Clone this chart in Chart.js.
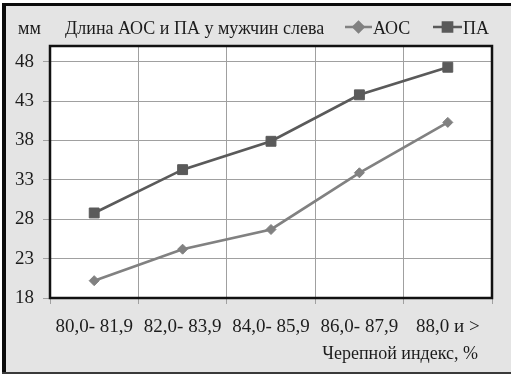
<!DOCTYPE html>
<html>
<head>
<meta charset="utf-8">
<script src="https://cdn.jsdelivr.net/npm/chart.js@4/dist/chart.umd.min.js"></script>
<style>
  html, body { margin: 0; padding: 0; background: #ffffff; }
  #wrap { width: 511px; height: 374px; position: relative; }
  canvas { display: block; }
</style>
</head>
<body>
<div id="wrap"><canvas id="chart" width="511" height="374"></canvas></div>
<script>
// Cranial index groups (x axis)
const categories = ['80,0- 81,9', '82,0- 83,9', '84,0- 85,9', '86,0- 87,9', '88,0 и >'];
// Length, mm
const aocValues = [20.2, 24.2, 26.7, 33.9, 40.3];
const paValues = [28.8, 34.3, 37.9, 43.8, 47.3];
// Labelled y ticks
const yTicks = [18, 23, 28, 33, 38, 43, 48];

const FONT = '"Liberation Serif", "Times New Roman", serif';
const TEXT = '#1c1c1c';
const AOC_COLOR = '#818181';
const PA_COLOR = '#5a5a5a';

const decor = {
  id: 'decor',
  beforeDraw(chart) {
    const ctx = chart.ctx;
    const a = chart.chartArea;
    ctx.save();
    // panel background and frame
    ctx.fillStyle = '#ffffff';
    ctx.fillRect(0, 0, 511, 374);
    ctx.fillStyle = '#e4e4e4';
    ctx.fillRect(2, 3, 509, 371);
    ctx.fillStyle = '#0a0a0a';
    ctx.fillRect(2, 3, 509, 3);
    ctx.fillRect(2, 3, 4, 371);
    ctx.fillStyle = '#3a3a3a';
    ctx.fillRect(2, 372, 509, 2);
    // plot area
    ctx.fillStyle = '#ffffff';
    ctx.fillRect(a.left, a.top, a.right - a.left, a.bottom - a.top);
    ctx.restore();
  },
  afterDatasetsDraw(chart) {
    const ctx = chart.ctx;
    const a = chart.chartArea;
    ctx.save();
    ctx.strokeStyle = '#111111';
    ctx.lineWidth = 2.5;
    ctx.strokeRect(a.left, a.top, a.right - a.left, a.bottom - a.top);
    ctx.restore();
  },
  afterDraw(chart) {
    const ctx = chart.ctx;
    ctx.save();
    ctx.fillStyle = TEXT;
    ctx.font = '18px ' + FONT;
    ctx.textBaseline = 'alphabetic';
    ctx.textAlign = 'left';
    ctx.fillText('мм', 18, 34);
    ctx.fillText('Длина АОС и ПА у мужчин слева', 65, 34);

    // legend entries: line + marker + label
    const drawEntry = (x0, x1, color, style, label) => {
      const y = 27;
      ctx.strokeStyle = color;
      ctx.lineWidth = 2.5;
      ctx.beginPath();
      ctx.moveTo(x0, y);
      ctx.lineTo(x1, y);
      ctx.stroke();
      ctx.fillStyle = color;
      Chart.helpers.drawPoint(ctx, {
        pointStyle: style,
        radius: style === 'rect' ? 6.5 : 5,
        borderWidth: 1
      }, (x0 + x1) / 2, y);
      ctx.fillStyle = TEXT;
      ctx.fillText(label, x1 + 1, 34);
    };
    drawEntry(345, 372, AOC_COLOR, 'rectRot', 'АОС');
    drawEntry(433, 462, PA_COLOR, 'rect', 'ПА');

    // x axis title
    ctx.textAlign = 'right';
    ctx.fillStyle = TEXT;
    ctx.fillText('Черепной индекс, %', 478, 359);
    ctx.restore();
  }
};

function build() {
  new Chart(document.getElementById('chart'), {
    type: 'line',
    data: {
      labels: categories,
      datasets: [
        {
          label: 'АОС',
          data: aocValues,
          borderColor: AOC_COLOR,
          backgroundColor: AOC_COLOR,
          borderWidth: 2.7,
          pointStyle: 'rectRot',
          pointRadius: 5,
          pointBorderWidth: 1,
          tension: 0
        },
        {
          label: 'ПА',
          data: paValues,
          borderColor: PA_COLOR,
          backgroundColor: PA_COLOR,
          borderWidth: 2.7,
          pointStyle: 'rect',
          pointRadius: 7,
          pointBorderWidth: 1,
          tension: 0
        }
      ]
    },
    options: {
      responsive: false,
      animation: false,
      devicePixelRatio: 1,
      layout: { padding: { left: 0, top: 46, right: 19, bottom: 0 } },
      plugins: {
        legend: { display: false },
        title: { display: false },
        tooltip: { enabled: false }
      },
      scales: {
        x: {
          type: 'category',
          offset: true,
          grid: {
            offset: true,
            color: '#a0a0a0',
            lineWidth: 1,
            tickLength: 6,
            drawTicks: true
          },
          border: { display: false },
          ticks: {
            color: TEXT,
            font: { family: FONT, size: 19 },
            padding: 12,
            maxRotation: 0,
            autoSkip: false
          },
          afterFit(scale) { scale.height = 76; }
        },
        y: {
          min: 18,
          max: 50,
          grid: {
            color: '#a0a0a0',
            lineWidth: 1,
            tickLength: 7,
            drawTicks: true
          },
          border: { display: false },
          ticks: {
            color: TEXT,
            font: { family: FONT, size: 19 },
            padding: 9
          },
          afterBuildTicks(scale) {
            scale.ticks = yTicks.map(v => ({ value: v }));
          },
          afterFit(scale) { scale.width = 50; }
        }
      }
    },
    plugins: [decor]
  });
}

if (document.fonts && document.fonts.load) {
  document.fonts.load('19px "Liberation Serif"', 'мм АОС 0123').then(build, build);
} else {
  build();
}
</script>
</body>
</html>
